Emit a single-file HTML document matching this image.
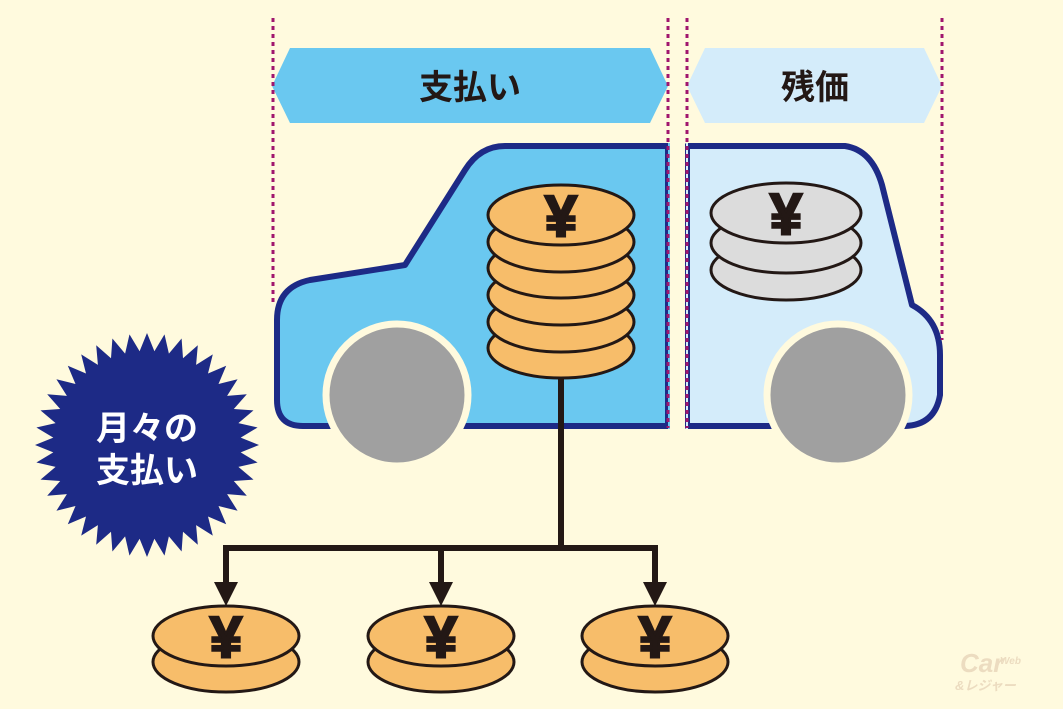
<!DOCTYPE html>
<html><head><meta charset="utf-8"><style>
html,body{margin:0;padding:0;background:#fffade;}
svg{display:block}
text{font-family:"Liberation Sans","Noto Sans CJK JP",sans-serif;font-weight:bold}
</style></head><body>
<svg width="1063" height="709" viewBox="0 0 1063 709" xmlns="http://www.w3.org/2000/svg">
<rect width="1063" height="709" fill="#fffade"/>
<!-- banners -->
<polygon points="290,48 650,48 668,86 650,123 290,123 272,86" fill="#6ac8f0"/>
<polygon points="705,48 924,48 942,86 924,123 705,123 687,86" fill="#d4ecfa"/>
<text x="470" y="99" font-size="34" text-anchor="middle" fill="#231815">支払い</text>
<text x="815" y="99" font-size="34" text-anchor="middle" fill="#231815">残価</text>
<!-- car left -->
<path d="M668,146 L505,146 Q480,146 465,170 L405,265 L310,280 Q277,287 277,320 L277,400 Q277,426 303,426 L668,426 Z" fill="#6ac8f0" stroke="#1d2a86" stroke-width="6" stroke-linejoin="round"/>
<rect x="669" y="140" width="18" height="295" fill="#fffade"/>
<!-- car right -->
<path d="M687,146 L845,146 Q872,150 882,185 L912,305 Q940,320 940,355 L940,395 Q935,425 905,426 L687,426 Z" fill="#d4ecfa" stroke="#1d2a86" stroke-width="6" stroke-linejoin="round"/>
<rect x="669" y="140" width="16" height="295" fill="#fffade"/>
<rect x="668" y="143" width="2" height="286" fill="#6ac8f0"/>
<rect x="686" y="143" width="2" height="286" fill="#d4ecfa"/>
<!-- wheels -->
<circle cx="397" cy="395" r="71" fill="#a0a0a0" stroke="#fffade" stroke-width="7"/>
<circle cx="838" cy="395" r="71" fill="#a0a0a0" stroke="#fffade" stroke-width="7"/>
<!-- dotted lines -->
<g stroke="#a0166e" stroke-width="3" stroke-dasharray="4,4">
<line x1="273" y1="18" x2="273" y2="302"/>
<line x1="668" y1="18" x2="668" y2="428"/>
<line x1="687" y1="18" x2="687" y2="428"/>
<line x1="942" y1="18" x2="942" y2="340"/>
</g>
<!-- connector -->
<g stroke="#231815" stroke-width="6" fill="none">
<line x1="561" y1="375" x2="561" y2="548"/>
<line x1="226" y1="548" x2="658" y2="548"/>
<line x1="226" y1="545" x2="226" y2="585"/>
<line x1="441" y1="545" x2="441" y2="585"/>
<line x1="655" y1="545" x2="655" y2="585"/>
</g>
<g fill="#231815">
<polygon points="214,582 238,582 226,606"/>
<polygon points="429,582 453,582 441,606"/>
<polygon points="643,582 667,582 655,606"/>
</g>
<!-- coin stack -->
<g fill="#f7bd6a" stroke="#231815" stroke-width="3">
<ellipse cx="561" cy="348" rx="73" ry="30"/>
<ellipse cx="561" cy="322" rx="73" ry="30"/>
<ellipse cx="561" cy="295" rx="73" ry="30"/>
<ellipse cx="561" cy="268" rx="73" ry="30"/>
<ellipse cx="561" cy="242" rx="73" ry="30"/>
<ellipse cx="561" cy="215" rx="73" ry="30"/>
</g>
<g fill="#dcdcdc" stroke="#231815" stroke-width="3">
<ellipse cx="786" cy="270" rx="75" ry="30"/>
<ellipse cx="786" cy="243" rx="75" ry="30"/>
<ellipse cx="786" cy="213" rx="75" ry="30"/>
</g>
<!-- bottom coins -->
<g fill="#f7bd6a" stroke="#231815" stroke-width="3">
<ellipse cx="226" cy="662" rx="73" ry="30"/><ellipse cx="226" cy="636" rx="73" ry="30"/>
<ellipse cx="441" cy="662" rx="73" ry="30"/><ellipse cx="441" cy="636" rx="73" ry="30"/>
<ellipse cx="655" cy="662" rx="73" ry="30"/><ellipse cx="655" cy="636" rx="73" ry="30"/>
</g>
<g font-size="58" text-anchor="middle" fill="#231815" stroke="#231815" stroke-width="2.5" font-family="Liberation Sans,sans-serif">
<text x="561" y="236">¥</text>
<text x="786" y="234">¥</text>
<text x="226" y="657">¥</text>
<text x="441" y="657">¥</text>
<text x="655" y="657">¥</text>
</g>
<!-- starburst -->
<polygon id="star" fill="#1d2a86" points=""/>
<text x="147" y="440" font-size="34" text-anchor="middle" fill="#fff">月々の</text>
<text x="147" y="482" font-size="34" text-anchor="middle" fill="#fff">支払い</text>
<!-- logo -->
<text x="960" y="672" font-size="26" font-style="italic" fill="#ecdcc0">Car</text>
<text x="1000" y="664" font-size="10" font-style="italic" fill="#ecdcc0">Web</text>
<text x="955" y="690" font-size="13" font-style="italic" fill="#ecdcc0">&amp;レジャー</text>
</svg>
<script>
var p=[],n=40,cx=147,cy=445,R=112,r=94;
for(var i=0;i<2*n;i++){var a=Math.PI*i/n-Math.PI/2,rr=i%2?r:R;p.push((cx+rr*Math.cos(a)).toFixed(1)+","+(cy+rr*Math.sin(a)).toFixed(1));}
document.getElementById("star").setAttribute("points",p.join(" "));
</script>
</body></html>
